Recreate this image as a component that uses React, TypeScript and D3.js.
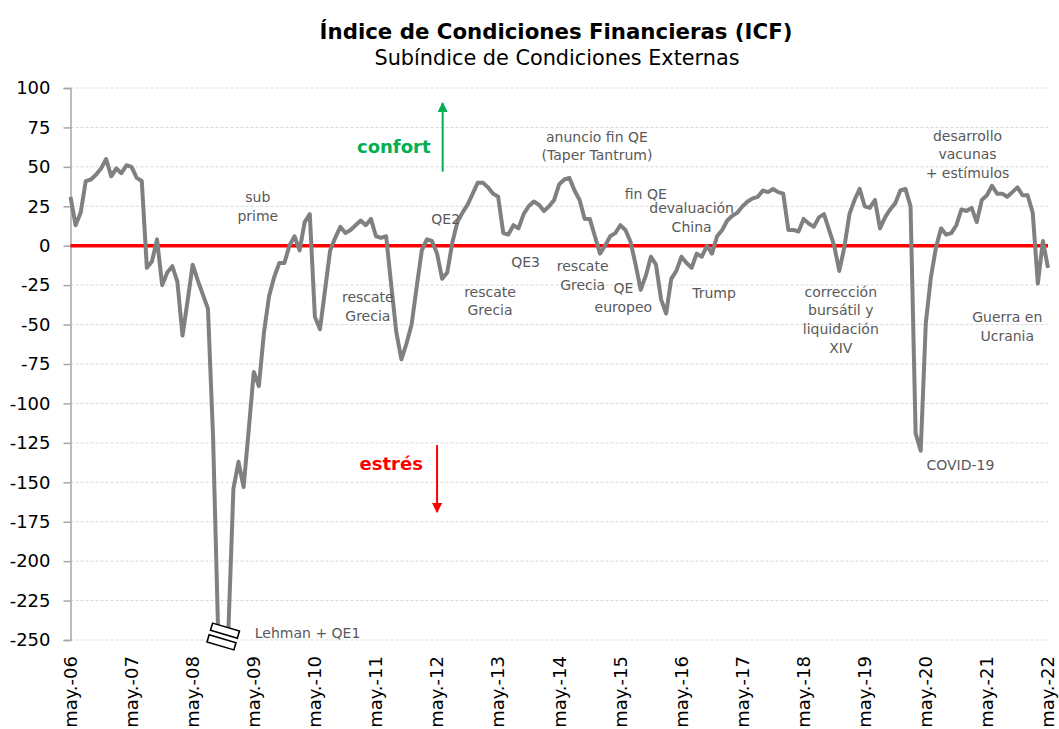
import React, { useRef, useEffect } from 'react'
import * as d3 from 'd3'

// monthly values, may-06 .. may-22 (one array per may-apr year)
const y2006 = [31, 13, 21, 41, 42, 45, 49, 55, 44, 49, 46, 51]
const y2007 = [50, 43, 41, -14, -10, 4, -25, -17, -13, -23, -57, -35]
const y2008 = [-12, -22, -31, -40, -121, -245, -250, -245, -154, -137, -153, -117]
const y2009 = [-80, -89, -55, -32, -20, -11, -11, 0, 6, -3, 15, 20]
const y2010 = [-45, -53, -28, -3, 5, 12, 8, 10, 13, 16, 13, 17]
const y2011 = [6, 5, 6, -25, -55, -72, -62, -50, -26, -3, 4, 3]
const y2012 = [-5, -21, -17, 2, 15, 21, 26, 33, 40, 40, 37, 33]
const y2013 = [31, 8, 7, 13, 11, 20, 25, 28, 26, 22, 25, 29]
const y2014 = [39, 42, 43, 35, 29, 17, 17, 6, -5, 0, 6, 8]
const y2015 = [13, 10, 2.5, -12, -28, -19, -7, -12, -34, -43, -21, -16]
const y2016 = [-7, -11, -14, -5, -7, 0, -5, 6, 10, 16, 19, 21]
const y2017 = [25, 28, 30, 31, 35, 34, 36, 34, 33, 10, 10, 9]
const y2018 = [17, 14, 12, 18, 20, 10, 0, -16, -1, 20, 29, 36]
const y2019 = [25, 24, 29, 11, 18, 23, 27, 35, 36, 25, -119, -130]
const y2020 = [-49, -20, -1, 11, 7, 8, 13, 23, 22, 24, 15, 29]
const y2021 = [32, 38, 33, 33, 31, 34, 37, 32, 32, 21, -24, 3, -14]

const icf = [
  ...y2006, ...y2007, ...y2008, ...y2009, ...y2010, ...y2011, ...y2012, ...y2013,
  ...y2014, ...y2015, ...y2016, ...y2017, ...y2018, ...y2019, ...y2020, ...y2021,
]

const tickLabels = [
  'may.-06', 'may.-07', 'may.-08', 'may.-09', 'may.-10', 'may.-11', 'may.-12', 'may.-13',
  'may.-14', 'may.-15', 'may.-16', 'may.-17', 'may.-18', 'may.-19', 'may.-20', 'may.-21', 'may.-22',
]
const yTicks = [100, 75, 50, 25, 0, -25, -50, -75, -100, -125, -150, -175, -200, -225, -250]

// event notes: month index from may-06 and value of the first line
const notes = [
  { lines: ['sub', 'prime'], m: 36.8, v: 27.7 },
  { lines: ['rescate', 'Grecia'], m: 58.4, v: -35.5 },
  { lines: ['QE2'], m: 73.7, v: 13.8 },
  { lines: ['rescate', 'Grecia'], m: 82.4, v: -32.3 },
  { lines: ['QE3'], m: 89.4, v: -13.3 },
  { lines: ['anuncio fin QE', '(Taper Tantrum)'], m: 103.4, v: 66 },
  { lines: ['rescate', 'Grecia'], m: 100.6, v: -15.9 },
  { lines: ['fin QE'], m: 113, v: 29.4 },
  { lines: ['devaluación', 'China'], m: 122, v: 20.9 },
  { lines: ['QE', 'europeo'], m: 108.6, v: -29.8 },
  { lines: ['Trump'], m: 126.4, v: -33.4 },
  { lines: ['corrección', 'bursátil y', 'liquidación', 'XIV'], m: 151.3, v: -32.3 },
  { lines: ['desarrollo', 'vacunas', '+ estímulos'], m: 176.2, v: 66.6 },
  { lines: ['Guerra en', 'Ucrania'], m: 184, v: -48.2 },
  { lines: ['COVID-19'], m: 174.8, v: -142.2 },
]

export default function App() {
  const svgRef = useRef<SVGSVGElement>(null)

  useEffect(() => {
    const svg = d3.select(svgRef.current)
    svg.selectAll('*').remove()

    const width = 1059, height = 729
    const font = "'DejaVu Sans', Verdana, sans-serif"
    const noteColor = '#595959'

    const x = d3.scaleLinear().domain([0, 192]).range([70.5, 1048])
    const y = d3.scaleLinear().domain([-250, 100]).range([640, 88])

    svg.attr('width', width).attr('height', height).style('font-family', font)

    svg.append('text')
      .attr('x', 556).attr('y', 39)
      .attr('text-anchor', 'middle').attr('font-weight', 'bold').attr('font-size', '21.3px')
      .attr('fill', '#000')
      .text('Índice de Condiciones Financieras (ICF)')
    svg.append('text')
      .attr('x', 557).attr('y', 65)
      .attr('text-anchor', 'middle').attr('font-size', '20.8px')
      .attr('fill', '#000')
      .text('Subíndice de Condiciones Externas')

    // grid
    svg.append('g').selectAll('line')
      .data(yTicks.filter(d => d !== 0))
      .join('line')
      .attr('x1', x(0)).attr('x2', x(192))
      .attr('y1', d => y(d)).attr('y2', d => y(d))
      .attr('stroke', '#d9d9d9').attr('stroke-dasharray', '3 2')

    // y axis
    const yAxis = svg.append('g').attr('transform', `translate(${x(0)},0)`)
      .call(d3.axisLeft(y).tickValues(yTicks).tickFormat(d => String(d)).tickSize(7).tickPadding(13))
    yAxis.selectAll('.domain, .tick line').attr('stroke', '#a6a6a6').attr('stroke-width', 1.5)
    yAxis.selectAll('text').attr('fill', '#000').attr('font-size', '18px').attr('font-family', font)

    // x tick labels
    svg.append('g').selectAll('text')
      .data(tickLabels)
      .join('text')
      .attr('transform', (d, i) => `translate(${x(i * 12)},656) rotate(-90)`)
      .attr('text-anchor', 'end').attr('dy', '0.35em')
      .attr('font-size', '18px').attr('fill', '#000')
      .text(d => d)

    // zero line
    svg.append('line')
      .attr('x1', x(0)).attr('x2', x(192))
      .attr('y1', y(0)).attr('y2', y(0))
      .attr('stroke', '#ff0000').attr('stroke-width', 3.5)

    const line = d3.line<number>().x((d, i) => x(i)).y(d => y(d))
    svg.append('path')
      .datum(icf)
      .attr('d', line)
      .attr('fill', 'none').attr('stroke', '#808080').attr('stroke-width', 4)
      .attr('stroke-linejoin', 'round')

    // axis break at the Lehman trough
    const brk = svg.append('g').attr('transform', `translate(${x(30)},${y(-250) - 3.5}) rotate(16.5)`)
    brk.append('rect').attr('x', -14).attr('y', -10).attr('width', 28).attr('height', 20).attr('fill', '#fff')
    brk.append('rect').attr('x', -14).attr('y', -9.8).attr('width', 28).attr('height', 7.4)
      .attr('fill', '#fff').attr('stroke', '#000').attr('stroke-width', 1.6)
    brk.append('rect').attr('x', -14).attr('y', 2.4).attr('width', 28).attr('height', 7.4)
      .attr('fill', '#fff').attr('stroke', '#000').attr('stroke-width', 1.6)

    svg.append('text')
      .attr('x', x(36.2)).attr('y', y(-248.9))
      .attr('font-size', '14px').attr('fill', noteColor)
      .text('Lehman + QE1')

    const ng = svg.append('g').attr('font-size', '14px').attr('fill', noteColor).attr('text-anchor', 'middle')
    notes.forEach(n => {
      const t = ng.append('text').attr('x', x(n.m)).attr('y', y(n.v))
      n.lines.forEach((l, i) => {
        t.append('tspan').attr('x', x(n.m)).attr('dy', i === 0 ? 0 : 18.8).text(l)
      })
    })

    // confort / estrés arrows
    const defs = svg.append('defs')
    const marker = (id: string, color: string) => defs.append('marker')
      .attr('id', id).attr('viewBox', '0 0 10 10').attr('refX', 9).attr('refY', 5)
      .attr('markerWidth', 5).attr('markerHeight', 5).attr('orient', 'auto')
      .append('path').attr('d', 'M0,0L10,5L0,10Z').attr('fill', color)
    marker('arrowUp', '#00b050')
    marker('arrowDown', '#ff0000')

    svg.append('line')
      .attr('x1', x(73.1)).attr('x2', x(73.1))
      .attr('y1', y(47)).attr('y2', y(90.5))
      .attr('stroke', '#00b050').attr('stroke-width', 2).attr('marker-end', 'url(#arrowUp)')
    svg.append('text')
      .attr('x', x(63.5)).attr('y', y(58.8))
      .attr('text-anchor', 'middle').attr('font-weight', 'bold').attr('font-size', '18px')
      .attr('fill', '#00b050').text('confort')

    svg.append('line')
      .attr('x1', x(72)).attr('x2', x(72))
      .attr('y1', y(-126.4)).attr('y2', y(-168.9))
      .attr('stroke', '#ff0000').attr('stroke-width', 2).attr('marker-end', 'url(#arrowDown)')
    svg.append('text')
      .attr('x', x(63)).attr('y', y(-142))
      .attr('text-anchor', 'middle').attr('font-weight', 'bold').attr('font-size', '18px')
      .attr('fill', '#ff0000').text('estrés')
  }, [])

  return <svg ref={svgRef} style={{ position: 'absolute', left: 0, top: 0 }} />
}
